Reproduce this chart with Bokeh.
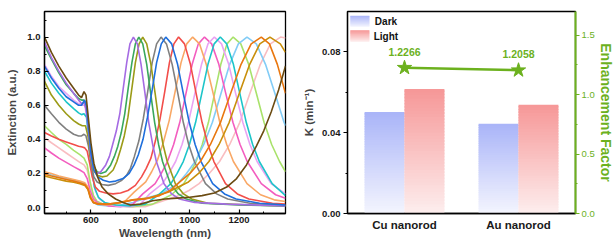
import numpy as np
from bokeh.plotting import figure
from bokeh.layouts import row
from bokeh.models import Range1d, LinearAxis, FixedTicker, PrintfTickFormatter
from bokeh.core.properties import value
from bokeh.embed import file_html
from bokeh.resources import INLINE

FONT = "Liberation Sans"
GREEN = "#6CB11E"

# ---------------- left panel: extinction spectra ----------------
wl_brown = [412,440,470,500,530,550,562,572,580,590,600,612,627,645,670,700,730,760,800,850,900,950,1000,1050,1100,1150,1190,1230,1270,1300,1330,1360,1388]
ext_brown = [1.0,0.91,0.83,0.76,0.70,0.66,0.645,0.68,0.66,0.52,0.38,0.26,0.18,0.12,0.08,0.05,0.03,0.015,0.02,0.04,0.05,0.055,0.06,0.07,0.085,0.12,0.17,0.25,0.36,0.45,0.56,0.69,0.83]

wl_purple = [412,440,470,500,530,550,562,572,580,590,600,612,625,640,660,675,690,703,717,731,745,758,772,788,803,819,834,850,865,896,927,958,1020,1150,1388]
ext_purple = [0.97,0.88,0.80,0.73,0.67,0.63,0.61,0.615,0.58,0.45,0.30,0.22,0.20,0.21,0.25,0.30,0.38,0.45,0.55,0.70,0.85,0.96,1.0,0.96,0.84,0.67,0.50,0.37,0.27,0.14,0.08,0.05,0.03,0.02,0.01]

wl_green = [412,440,470,500,530,550,562,572,580,590,600,612,625,640,660,680,695,709,723,737,751,766,780,794,810,826,842,858,874,890,922,954,986,1050,1200,1388]
ext_green = [0.95,0.87,0.79,0.72,0.67,0.64,0.63,0.63,0.60,0.48,0.33,0.24,0.21,0.20,0.21,0.25,0.30,0.36,0.44,0.55,0.70,0.85,0.96,1.0,0.96,0.84,0.67,0.50,0.37,0.27,0.14,0.08,0.05,0.025,0.015,0.01]

wl_olive = [412,440,470,500,530,550,565,578,588,598,610,625,645,665,690,705,720,735,750,765,780,795,810,826,843,860,876,892,909,942,975,1008,1074,1250,1388]
ext_olive = [0.74,0.66,0.60,0.55,0.51,0.49,0.48,0.48,0.42,0.30,0.22,0.19,0.18,0.185,0.22,0.27,0.34,0.42,0.53,0.69,0.85,0.96,1.0,0.96,0.84,0.67,0.50,0.37,0.27,0.14,0.08,0.05,0.025,0.015,0.01]

wl_gray = [412,440,470,500,530,550,562,572,580,590,600,612,625,645,670,700,725,745,760,776,794,812,830,848,866,884,906,929,952,974,996,1019,1064,1109,1154,1244,1388]
ext_gray = [0.60,0.55,0.50,0.46,0.43,0.42,0.42,0.43,0.42,0.36,0.26,0.18,0.15,0.135,0.13,0.14,0.16,0.19,0.23,0.30,0.39,0.52,0.68,0.85,0.96,1.0,0.96,0.84,0.67,0.50,0.37,0.27,0.14,0.08,0.05,0.025,0.015]

wl_blue = [412,440,470,500,530,550,562,574,582,590,600,612,628,650,675,700,730,755,775,792,811,829,848,866,885,903,927,951,974,998,1022,1046,1093,1141,1188,1283,1388]
ext_blue = [0.83,0.76,0.70,0.65,0.62,0.60,0.60,0.63,0.60,0.48,0.32,0.22,0.18,0.16,0.15,0.155,0.17,0.20,0.25,0.31,0.40,0.53,0.69,0.85,0.96,1.0,0.96,0.84,0.67,0.50,0.37,0.27,0.14,0.08,0.05,0.025,0.015]

wl_red = [412,440,470,500,530,550,565,575,585,595,605,618,635,660,690,720,750,780,805,824,843,861,880,899,918,936,955,979,1003,1026,1050,1074,1098,1145,1193,1240,1335,1388]
ext_red = [0.44,0.42,0.40,0.385,0.37,0.36,0.355,0.35,0.33,0.26,0.18,0.12,0.095,0.085,0.08,0.085,0.10,0.13,0.18,0.23,0.29,0.39,0.52,0.68,0.85,0.96,1.0,0.96,0.84,0.67,0.50,0.37,0.27,0.14,0.08,0.05,0.025,0.02]

wl_lorange = [412,440,470,500,530,555,575,588,598,610,630,660,700,740,775,822,846,870,893,917,941,965,988,1012,1040,1067,1095,1122,1150,1177,1232,1287,1342,1388]
ext_lorange = [0.21,0.20,0.185,0.175,0.165,0.155,0.145,0.12,0.07,0.035,0.02,0.015,0.02,0.04,0.09,0.15,0.21,0.28,0.38,0.51,0.68,0.85,0.96,1.0,0.96,0.84,0.67,0.50,0.37,0.27,0.14,0.075,0.045,0.035]

wl_pink = [412,440,470,500,530,555,572,585,597,610,630,670,720,770,810,860,885,910,935,960,985,1010,1035,1060,1089,1118,1146,1175,1204,1233,1290,1348,1388]
ext_pink = [0.35,0.32,0.29,0.265,0.24,0.22,0.205,0.17,0.10,0.05,0.025,0.01,0.005,0.02,0.08,0.14,0.20,0.27,0.37,0.50,0.67,0.84,0.96,1.0,0.96,0.84,0.67,0.50,0.37,0.27,0.14,0.075,0.055]

wl_violet = [412,440,470,500,530,550,565,575,585,595,605,618,635,660,700,760,800,838,890,916,943,969,995,1021,1048,1074,1100,1129,1158,1186,1215,1244,1273,1330,1388]
ext_violet = [0.84,0.77,0.71,0.67,0.63,0.61,0.60,0.60,0.52,0.35,0.20,0.10,0.05,0.025,0.01,0.005,0.02,0.08,0.14,0.20,0.27,0.37,0.50,0.67,0.84,0.96,1.0,0.96,0.84,0.67,0.50,0.37,0.27,0.14,0.08]

wl_cyan = [412,440,470,500,530,550,562,572,582,592,602,614,630,655,700,760,820,874,924,949,974,999,1024,1049,1074,1099,1124,1150,1177,1203,1229,1255,1282,1334,1388]
ext_cyan = [0.80,0.73,0.67,0.62,0.58,0.555,0.545,0.55,0.53,0.40,0.25,0.12,0.06,0.03,0.015,0.01,0.02,0.075,0.14,0.20,0.27,0.37,0.50,0.67,0.84,0.96,1.0,0.96,0.84,0.67,0.50,0.37,0.27,0.14,0.07]

wl_lgreen = [412,440,470,500,530,555,572,585,597,610,625,650,700,770,850,926,976,1001,1026,1051,1076,1101,1126,1151,1176,1207,1239,1270,1301,1332,1364,1388]
ext_lgreen = [0.48,0.44,0.40,0.37,0.335,0.31,0.29,0.25,0.15,0.07,0.035,0.02,0.01,0.005,0.02,0.075,0.14,0.20,0.27,0.37,0.50,0.67,0.84,0.96,1.0,0.96,0.84,0.67,0.50,0.37,0.27,0.21]

wl_lblue = [412,440,470,500,530,555,575,588,598,610,630,670,720,770,812,882,952,987,1022,1057,1092,1127,1162,1197,1232,1270,1307,1345,1382,1388]
ext_lblue = [0.20,0.19,0.18,0.17,0.16,0.15,0.14,0.115,0.065,0.03,0.015,0.01,0.015,0.03,0.05,0.08,0.14,0.20,0.27,0.37,0.50,0.67,0.84,0.96,1.0,0.96,0.84,0.67,0.50,0.48]

wl_orange = [412,440,470,500,530,555,575,588,598,610,630,670,720,770,820,878,920,960,1001,1043,1084,1125,1166,1208,1249,1290,1323,1355,1388]
ext_orange = [0.195,0.185,0.175,0.165,0.155,0.145,0.135,0.11,0.06,0.03,0.02,0.02,0.03,0.045,0.05,0.07,0.10,0.15,0.20,0.27,0.37,0.50,0.67,0.84,0.96,1.0,0.96,0.84,0.67]

wl_gold = [412,440,470,500,530,555,575,588,598,610,630,670,720,770,830,912,954,995,1036,1078,1119,1160,1201,1243,1284,1325,1367,1388]
ext_gold = [0.185,0.175,0.165,0.155,0.148,0.14,0.13,0.105,0.055,0.028,0.02,0.02,0.03,0.045,0.055,0.09,0.12,0.15,0.20,0.27,0.37,0.50,0.67,0.84,0.96,1.0,0.96,0.91]

wl_lpink = [412,440,470,500,530,555,572,585,597,610,625,650,700,760,820,873,914,956,997,1038,1079,1121,1162,1203,1244,1286,1327,1368,1388]
ext_lpink = [0.41,0.38,0.35,0.32,0.29,0.265,0.25,0.22,0.14,0.07,0.035,0.02,0.01,0.005,0.005,0.03,0.05,0.07,0.10,0.14,0.20,0.27,0.37,0.50,0.67,0.84,0.96,1.0,0.995]

x_ticks_left = [600, 800, 1000, 1200]
x_minor_left = [500, 700, 900, 1100, 1300]
y_ticks_left = [0.0, 0.2, 0.4, 0.6, 0.8, 1.0]
y_minor_left = [0.1, 0.3, 0.5, 0.7, 0.9, 1.1]

# ---------------- right panel: rate constants ----------------
samples = ["Cu nanorod", "Au nanorod"]
k_dark = [0.0502, 0.0444]
k_light = [0.0616, 0.0538]
enh_factor = [1.2266, 1.2058]
enh_labels = ["1.2266", "1.2058"]
k_ticks = [0.0, 0.04, 0.08]
k_minor = [0.02, 0.06]
ef_ticks = [0.0, 0.5, 1.0, 1.5]
ef_minor = [0.25, 0.75, 1.25]

spectra = [
    (wl_lpink, ext_lpink, "#F9BDC1"),
    (wl_lgreen, ext_lgreen, "#A9E26B"),
    (wl_lblue, ext_lblue, "#82CCF6"),
    (wl_pink, ext_pink, "#F35DBF"),
    (wl_violet, ext_violet, "#E9A3F3"),
    (wl_lorange, ext_lorange, "#F9A866"),
    (wl_cyan, ext_cyan, "#1DC5C9"),
    (wl_red, ext_red, "#F24E4A"),
    (wl_gray, ext_gray, "#808080"),
    (wl_olive, ext_olive, "#9B9B17"),
    (wl_green, ext_green, "#3AA85C"),
    (wl_purple, ext_purple, "#A56BE3"),
    (wl_blue, ext_blue, "#1F6FDC"),
    (wl_gold, ext_gold, "#C98F0B"),
    (wl_orange, ext_orange, "#E9770F"),
    (wl_brown, ext_brown, "#6B4B12"),
]


def style_axis(ax, size="9.5px"):
    ax.major_label_text_font = FONT
    ax.major_label_text_font_style = "bold"
    ax.major_label_text_font_size = size
    ax.major_label_text_color = "#1a1a1a"
    ax.axis_label_text_font = FONT
    ax.axis_label_text_font_style = "bold"
    ax.axis_label_text_font_size = "11.5px"
    ax.axis_line_width = 1.3
    ax.major_tick_line_width = 1.2
    ax.minor_tick_line_width = 1.0


p1 = figure(width=300, height=241, output_backend="svg", toolbar_location=None,
            x_range=Range1d(412, 1388), y_range=Range1d(-0.035, 1.15),
            min_border_left=44, min_border_right=15, min_border_top=11, min_border_bottom=28)
for wl, ext, c in spectra:
    p1.line(wl, ext, line_color=c, line_width=1.6)
p1.xgrid.grid_line_color = None
p1.ygrid.grid_line_color = None
p1.outline_line_color = "black"
p1.outline_line_width = 1.3
p1.outline_line_alpha = 1
p1.xaxis.ticker = FixedTicker(ticks=x_ticks_left, minor_ticks=x_minor_left)
p1.yaxis.ticker = FixedTicker(ticks=y_ticks_left, minor_ticks=y_minor_left)
p1.yaxis.formatter = PrintfTickFormatter(format="%.1f")
p1.xaxis.axis_label = "Wavelength (nm)"
p1.yaxis.axis_label = "Extinction (a.u.)"
for ax in (p1.xaxis[0], p1.yaxis[0]):
    style_axis(ax)
    ax.major_tick_in = 4
    ax.major_tick_out = 0
    ax.minor_tick_in = 2
    ax.minor_tick_out = 0
    ax.major_label_standoff = 3
    ax.axis_label_standoff = 1
p1.yaxis.major_label_standoff = 4
p1.yaxis.axis_label_standoff = 6

# ---------- right panel ----------
p2 = figure(width=316, height=241, output_backend="svg", toolbar_location=None,
            x_range=Range1d(0.5, 2.5), y_range=Range1d(0, 0.1),
            min_border_left=44, min_border_right=32, min_border_top=11, min_border_bottom=28)
p2.extra_y_ranges = {"ef": Range1d(0, 1.7)}
p2.xgrid.grid_line_color = None
p2.ygrid.grid_line_color = None
p2.outline_line_color = "black"
p2.outline_line_width = 1.3
p2.outline_line_alpha = 1


def hex2rgb(h):
    h = h.lstrip("#")
    return np.array([int(h[i:i + 2], 16) for i in (0, 2, 4)], dtype=float)


def grad_colors(top_hex, bot_hex, n):
    t = hex2rgb(top_hex)
    b = hex2rgb(bot_hex)
    out = []
    for i in range(n):
        f = (i + 0.5) / n  # 0 bottom -> 1 top
        c = b + (t - b) * f
        out.append("#%02x%02x%02x" % tuple(int(round(v)) for v in c))
    return out


NSL = 40
DARK_TOP, DARK_BOT = "#A9B4F8", "#F4F5FE"
LIGHT_TOP, LIGHT_BOT = "#F69797", "#FDEEEE"
BAR_W = 0.35


def sliced_quads(fig, x0, x1, y0, y1, top_hex, bot_hex, n):
    # slices overlap slightly so no seams appear between them
    edges = np.linspace(y0, y1, n + 1)
    step = edges[1] - edges[0]
    tops = edges[1:].copy()
    tops[:-1] += step * 0.6
    cols = grad_colors(top_hex, bot_hex, n)
    fig.quad(left=[x0] * n, right=[x1] * n, bottom=edges[:-1], top=tops,
             fill_color=cols, line_color=None)


xpos = np.arange(1, len(samples) + 1, dtype=float)
for i in range(len(samples)):
    xd = xpos[i] - BAR_W / 2
    xl = xpos[i] + BAR_W / 2
    sliced_quads(p2, xd - BAR_W / 2, xd + BAR_W / 2, 0, k_dark[i], DARK_TOP, DARK_BOT, NSL)
    sliced_quads(p2, xl - BAR_W / 2, xl + BAR_W / 2, 0, k_light[i], LIGHT_TOP, LIGHT_BOT, NSL)

# enhancement factor line + stars
p2.line(xpos, enh_factor, line_color=GREEN, line_width=2.5, y_range_name="ef")
p2.scatter(xpos, enh_factor, marker="star", size=15, fill_color=GREEN, line_color=GREEN,
           y_range_name="ef")
p2.text(x=xpos, y=[v + 0.1 for v in enh_factor], text=enh_labels, text_font=value(FONT),
        text_font_style="bold", text_font_size="10.5px", text_color=GREEN,
        text_align="center", text_baseline="bottom", y_range_name="ef")

# manual legend with gradient swatches
sliced_quads(p2, 0.525, 0.692, 0.0924, 0.0979, DARK_TOP, DARK_BOT, 12)
sliced_quads(p2, 0.525, 0.692, 0.0850, 0.0907, LIGHT_TOP, LIGHT_BOT, 12)
p2.text(x=[0.74, 0.73], y=[0.0950, 0.0878], text=["Dark", "Light"], text_font=value(FONT),
        text_font_style="bold", text_font_size="10px", text_color="#111111",
        text_align="left", text_baseline="middle")

p2.xaxis.ticker = FixedTicker(ticks=list(xpos))
p2.xaxis.major_label_overrides = {float(x): s for x, s in zip(xpos, samples)}
p2.yaxis.ticker = FixedTicker(ticks=k_ticks, minor_ticks=k_minor)
p2.yaxis.formatter = PrintfTickFormatter(format="%.2f")
p2.yaxis.axis_label = "K (min⁻¹)"
style_axis(p2.xaxis[0], size="11.5px")
p2.xaxis.major_tick_out = 0
p2.xaxis.major_tick_in = 0
p2.xaxis.minor_tick_out = 0
p2.xaxis.major_label_standoff = 5
style_axis(p2.yaxis[0])
p2.yaxis.major_tick_out = 4
p2.yaxis.major_tick_in = 0
p2.yaxis.minor_tick_out = 2
p2.yaxis.minor_tick_in = 0
p2.yaxis.major_label_standoff = 3
p2.yaxis.axis_label_standoff = 4

ax_r = LinearAxis(y_range_name="ef", axis_label="Enhancement Factor",
                  ticker=FixedTicker(ticks=ef_ticks, minor_ticks=ef_minor),
                  formatter=PrintfTickFormatter(format="%.1f"))
style_axis(ax_r)
ax_r.major_label_text_font_style = "normal"
ax_r.major_label_text_color = GREEN
ax_r.axis_line_color = GREEN
ax_r.axis_line_width = 2
ax_r.major_tick_line_color = GREEN
ax_r.minor_tick_line_color = GREEN
ax_r.axis_label_text_color = GREEN
ax_r.axis_label_text_font_size = "14px"
ax_r.major_tick_out = 4
ax_r.major_tick_in = 0
ax_r.minor_tick_out = 2
ax_r.minor_tick_in = 0
ax_r.major_label_standoff = 2
ax_r.axis_label_standoff = 0
p2.add_layout(ax_r, "right")

layout = row(p1, p2)
open("out.html", "w").write(file_html(layout, INLINE))
